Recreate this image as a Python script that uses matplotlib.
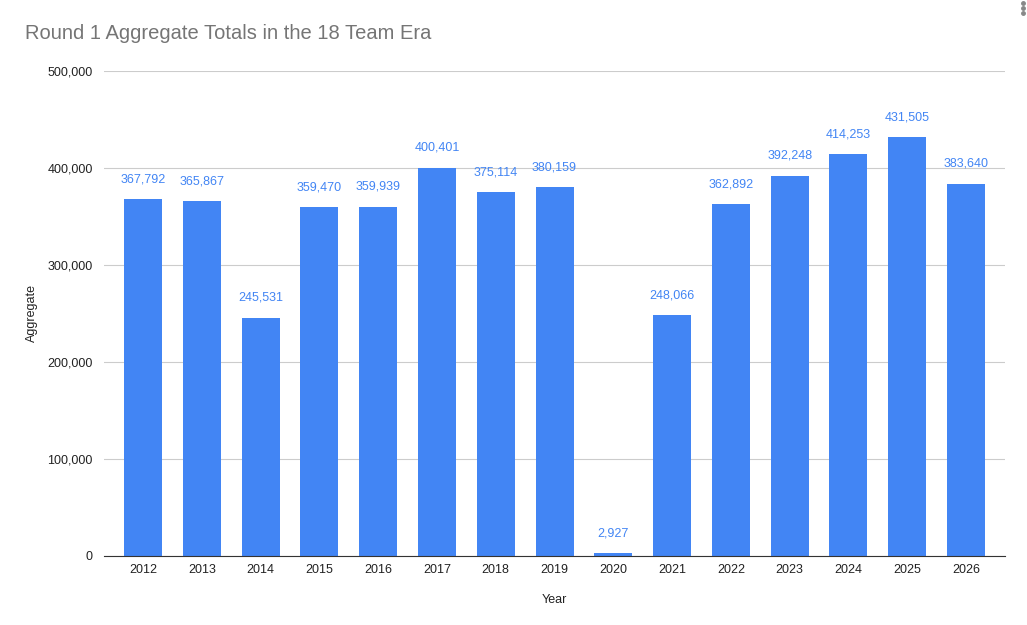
import matplotlib.pyplot as plt
import matplotlib.ticker as mticker
from matplotlib.lines import Line2D

years = ["2012", "2013", "2014", "2015", "2016", "2017", "2018", "2019",
         "2020", "2021", "2022", "2023", "2024", "2025", "2026"]
aggregate = [367792, 365867, 245531, 359470, 359939, 400401, 375114, 380159,
             2927, 248066, 362892, 392248, 414253, 431505, 383640]

plt.rcParams['font.family'] = ['Liberation Sans', 'DejaVu Sans']

fig = plt.figure(figsize=(10.27, 6.25), dpi=100)
ax = fig.add_axes([0.1013, 0.1104, 0.8773, 0.776])

x = range(len(years))
bars = ax.bar(x, aggregate, width=0.646, color="#4285F4", zorder=2)
for xi, v in zip(x, aggregate):
    ax.annotate(f"{v:,}", (xi, v), xytext=(0, 10), textcoords="offset points",
                ha="center", va="bottom", fontsize=9, color="#4285F4")

ax.set_xlim(-0.663, len(years) - 1 + 0.663)
ax.set_ylim(0, 500000)
ax.set_xticks(list(x))
ax.set_xticklabels(years)
ax.yaxis.set_major_locator(mticker.MultipleLocator(100000))
ax.yaxis.set_major_formatter(mticker.FuncFormatter(lambda v, p: f"{int(v):,}"))
ax.grid(axis="y", color="#cccccc", linewidth=0.8, zorder=0)
ax.tick_params(axis="both", length=0, labelsize=9, colors="#222222")
ax.tick_params(axis="x", pad=6)
ax.tick_params(axis="y", pad=8)
for s in ["top", "right", "left"]:
    ax.spines[s].set_visible(False)
ax.spines["bottom"].set_color("#333333")
ax.spines["bottom"].set_zorder(3)

ax.set_xlabel("Year", fontsize=9, color="#222222", labelpad=12.5)
ax.set_ylabel("Aggregate", fontsize=9, color="#222222", labelpad=7)

fig.text(0.024, 0.947, "Round 1 Aggregate Totals in the 18 Team Era",
         fontsize=14.5, color="#757575", ha="left", va="center")

for yy in [0.996, 0.988, 0.979]:
    fig.add_artist(Line2D([0.9965], [yy], marker="o", markersize=2.5,
                          color="#888888", transform=fig.transFigure))

fig.savefig("out.png", dpi=100)
